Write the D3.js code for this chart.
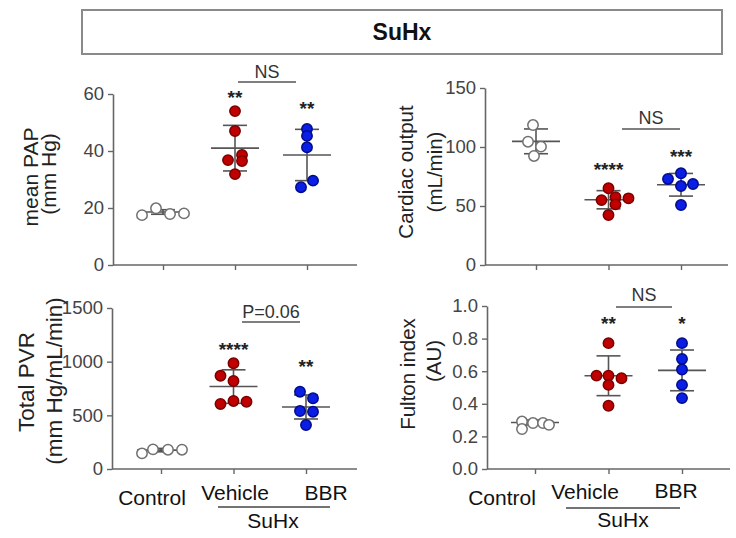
<!DOCTYPE html>
<html><head><meta charset="utf-8">
<script src="https://cdn.jsdelivr.net/npm/d3@7"></script>
<style>
body{margin:0;background:#fff}
text{font-family:Arial,"Liberation Sans",sans-serif}
</style>
</head><body>
<svg id="c" width="736" height="538"></svg>
<script>
// ---------- DATA ----------
const title = "SuHx";
const categories = ["Control", "Vehicle", "BBR"];
const groupLabel = "SuHx";

// mean PAP (mm Hg)
const papControl = [17.5, 19.9, 17.9, 18.1];
const papVehicle = [54.0, 47.0, 36.8, 38.6, 36.5, 31.9];
const papBBR     = [47.7, 45.3, 41.3, 27.3, 29.6];
const papMean = [18.6, 41.0, 38.6];
const papSD   = [0.8, 8.0, 9.0];
const papTicks = [0, 20, 40, 60];
const papStars = ["", "**", "**"];
const papCompare = "NS";

// Cardiac output (mL/min)
const coControl = [118.6, 104.5, 100.3, 92.4];
const coVehicle = [65.0, 55.0, 57.4, 56.5, 51.4, 42.4];
const coBBR     = [72.9, 77.7, 66.9, 68.6, 50.8];
const coMean = [104.8, 55.3, 68.0];
const coSD   = [10.5, 7.7, 9.6];
const coTicks = [0, 50, 100, 150];
const coStars = ["", "****", "***"];
const coCompare = "NS";

// Total PVR (mm Hg/mL/min)
const pvrControl = [146, 183, 180, 180];
const pvrVehicle = [985, 869, 820, 606, 634, 627];
const pvrBBR     = [720, 659, 540, 534, 410];
const pvrMean = [176, 768, 578];
const pvrSD   = [16, 156, 112];
const pvrTicks = [0, 500, 1000, 1500];
const pvrStars = ["", "****", "**"];
const pvrCompare = "P=0.06";

// Fulton index (AU)
const fulControl = [0.291, 0.245, 0.282, 0.282, 0.271];
const fulVehicle = [0.772, 0.573, 0.573, 0.557, 0.516, 0.388];
const fulBBR     = [0.772, 0.675, 0.610, 0.516, 0.435];
const fulMean = [0.285, 0.572, 0.605];
const fulSD   = [0.015, 0.122, 0.125];
const fulTicks = [0, 0.2, 0.4, 0.6, 0.8, 1.0];
const fulStars = ["", "**", "*"];
const fulCompare = "NS";

// ---------- LAYOUT ----------
const panels = [
  { groups: [papControl, papVehicle, papBBR], mean: papMean, sd: papSD, ticks: papTicks, fmt: d3.format("d"),
    stars: papStars, compare: papCompare, titleLines: ["mean PAP", "(mm Hg)"], titleSize: 21,
    x0: 113, x1: 357, yb: 265, yt: 94, cat: [163, 307],
    jitter: [[-21, -7, 7, 21], [0, 0, -7, 7, 7, 0], [0, 0, 0, -6, 6]],
    titleX: [30, 48], titleY: [177, 174],
    starLvl: [null, 60.4, 56.5], cmpText: 67.6, cmpLine: 64.2, cmpX: [238, 296], xLabels: false },
  { groups: [coControl, coVehicle, coBBR], mean: coMean, sd: coSD, ticks: coTicks, fmt: d3.format("d"),
    stars: coStars, compare: coCompare, titleLines: ["Cardiac output", "(mL/min)"], titleSize: 20.5,
    x0: 485, x1: 728, yb: 265, yt: 88, cat: [536, 681],
    jitter: [[-3, -8, 5, -2], [0, -7, 7, 20, 7, 0], [-13, 0, 0, 12, 0]],
    titleX: [405, 434], titleY: [172, 172],
    starLvl: [null, 84.7, 96], cmpText: 124.6, cmpLine: 115.3, cmpX: [622, 680], xLabels: false },
  { groups: [pvrControl, pvrVehicle, pvrBBR], mean: pvrMean, sd: pvrSD, ticks: pvrTicks, fmt: d3.format("d"),
    stars: pvrStars, compare: pvrCompare, titleLines: ["Total PVR", "(mm Hg/mL/min)"], titleSize: 22.5,
    x0: 112, x1: 357, yb: 469, yt: 308, cat: [161, 306],
    jitter: [[-19, -8, 7, 21], [0, -13, 0, -13, 0, 13], [-6, 7, -6, 7, 0]],
    titleX: [26, 54], titleY: [382, 381],
    starLvl: [null, 1155, 1000], cmpText: 1463, cmpLine: 1370, cmpX: [242, 300], xLabels: true,
    labX: [152, 235, 326], labY: [497, 492, 492], supLine: [218, 330], supLineY: 507, supX: 273, supY: 520 },
  { groups: [fulControl, fulVehicle, fulBBR], mean: fulMean, sd: fulSD, ticks: fulTicks, fmt: d3.format(".1f"),
    stars: fulStars, compare: fulCompare, titleLines: ["Fulton index", "(AU)"], titleSize: 20.5,
    x0: 487, x1: 730, yb: 469, yt: 306, cat: [535, 682],
    jitter: [[-13, -13, -2, 8, 14], [0, -12, 0, 13, 0, 0], [0, 0, 0, 0, 0]],
    titleX: [407, 433], titleY: [374, 361],
    starLvl: [null, 0.918, 0.918], cmpText: 1.067, cmpLine: 0.994, cmpX: [616, 672], xLabels: true,
    labX: [502, 585, 676], labY: [497, 491, 490], supLine: [566, 680], supLineY: 508, supX: 623, supY: 519 }
];

const fills   = ["#ffffff", "#c00000", "#0a1ee6"];
const strokes = ["#707070", "#7a0000", "#000c8a"];
const axisCol = "#666";
const barCol = "#555";

const svg = d3.select("#c");

// Title box
svg.append("rect").attr("x", 82).attr("y", 10).attr("width", 640).attr("height", 44)
  .attr("fill", "#fff").attr("stroke", "#8a8a8a").attr("stroke-width", 2);
svg.append("text").attr("x", 402).attr("y", 32).attr("text-anchor", "middle")
  .attr("dominant-baseline", "central").attr("font-size", 23).attr("font-weight", "bold")
  .attr("fill", "#111").text(title);

panels.forEach(p => {
  const g = svg.append("g");
  const x = d3.scalePoint().domain(categories).range(p.cat);
  const y = d3.scaleLinear().domain([0, d3.max(p.ticks)]).range([p.yb, p.yt]);

  // y axis
  const ya = g.append("g").attr("transform", `translate(${p.x0},0)`)
    .call(d3.axisLeft(y).tickValues(p.ticks).tickFormat(p.fmt).tickSize(5).tickSizeOuter(0).tickPadding(4));
  ya.select(".domain").attr("stroke", axisCol).attr("stroke-width", 1.6);
  ya.selectAll(".tick line").attr("stroke", axisCol).attr("stroke-width", 1.4);
  ya.selectAll(".tick text").attr("font-size", 18.5).attr("fill", "#444")
    .attr("font-family", "Arial, 'Liberation Sans', sans-serif");

  // x axis
  const xa = g.append("g").attr("transform", `translate(0,${p.yb})`)
    .call(d3.axisBottom(x).tickSize(5).tickSizeOuter(0).tickFormat(""));
  xa.select(".domain").remove();
  xa.selectAll(".tick line").attr("stroke", axisCol).attr("stroke-width", 1.4);
  g.append("line").attr("x1", p.x0).attr("x2", p.x1).attr("y1", p.yb).attr("y2", p.yb)
    .attr("stroke", axisCol).attr("stroke-width", 1.6);

  // y title
  p.titleLines.forEach((t, i) => {
    g.append("text")
      .attr("transform", `translate(${p.titleX[i]},${p.titleY[i]}) rotate(-90)`)
      .attr("text-anchor", "middle").attr("dominant-baseline", "central")
      .attr("font-size", p.titleSize).attr("fill", "#222").text(t);
  });

  // error bars
  categories.forEach((c, i) => {
    const cx = x(c), m = p.mean[i], s = p.sd[i];
    const eb = g.append("g").attr("stroke", barCol).attr("stroke-width", 1.6);
    eb.append("line").attr("x1", cx).attr("x2", cx).attr("y1", y(m + s)).attr("y2", y(m - s));
    eb.append("line").attr("x1", cx - 24).attr("x2", cx + 24).attr("y1", y(m)).attr("y2", y(m));
    eb.append("line").attr("x1", cx - 12).attr("x2", cx + 12).attr("y1", y(m + s)).attr("y2", y(m + s));
    eb.append("line").attr("x1", cx - 12).attr("x2", cx + 12).attr("y1", y(m - s)).attr("y2", y(m - s));
  });

  // points
  categories.forEach((c, i) => {
    g.append("g").selectAll("circle").data(p.groups[i]).join("circle")
      .attr("cx", (d, j) => x(c) + p.jitter[i][j])
      .attr("cy", d => y(d))
      .attr("r", 5.2)
      .attr("fill", fills[i]).attr("stroke", strokes[i]).attr("stroke-width", 1.5);
  });

  // stars
  categories.forEach((c, i) => {
    if (!p.stars[i]) return;
    g.append("text").attr("x", x(c)).attr("y", y(p.starLvl[i]) + 11)
      .attr("text-anchor", "middle").attr("font-size", 19).attr("font-weight", "bold")
      .attr("fill", "#222").text(p.stars[i]);
  });

  // comparison
  g.append("line").attr("x1", p.cmpX[0]).attr("x2", p.cmpX[1])
    .attr("y1", y(p.cmpLine)).attr("y2", y(p.cmpLine)).attr("stroke", "#555").attr("stroke-width", 1.5);
  g.append("text").attr("x", (p.cmpX[0] + p.cmpX[1]) / 2).attr("y", y(p.cmpText))
    .attr("text-anchor", "middle").attr("dominant-baseline", "central")
    .attr("font-size", 18).attr("fill", "#333").text(p.compare);

  // x labels
  if (p.xLabels) {
    categories.forEach((c, i) => {
      g.append("text").attr("x", p.labX[i]).attr("y", p.labY[i])
        .attr("text-anchor", "middle").attr("dominant-baseline", "central")
        .attr("font-size", 21).attr("fill", "#111").text(c);
    });
    g.append("line").attr("x1", p.supLine[0]).attr("x2", p.supLine[1])
      .attr("y1", p.supLineY).attr("y2", p.supLineY).attr("stroke", "#444").attr("stroke-width", 1.5);
    g.append("text").attr("x", p.supX).attr("y", p.supY)
      .attr("text-anchor", "middle").attr("dominant-baseline", "central")
      .attr("font-size", 21).attr("fill", "#111").text(groupLabel);
  }
});
</script>
</body></html>
